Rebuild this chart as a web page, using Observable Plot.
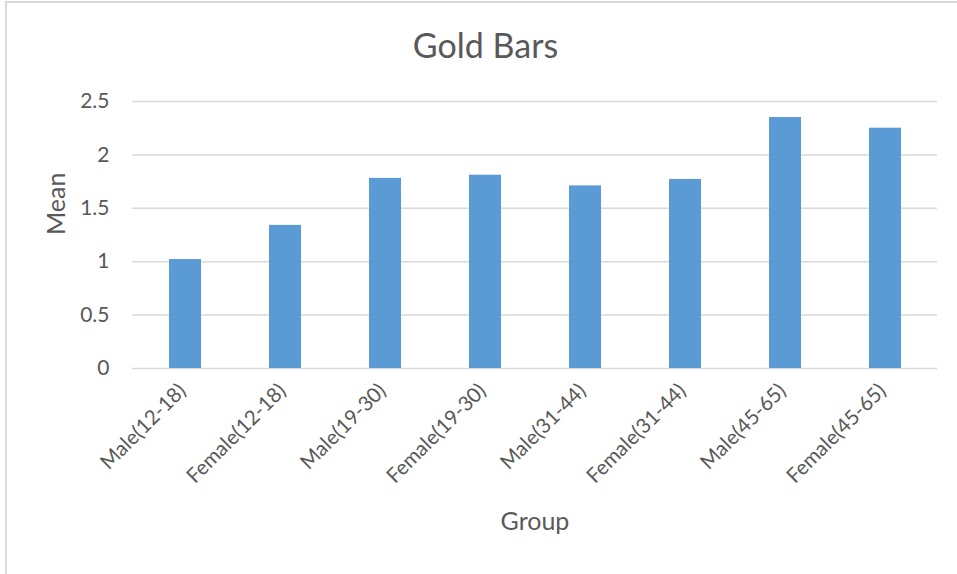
<!DOCTYPE html>
<html>
<head>
<meta charset="utf-8">
<script src="https://cdn.jsdelivr.net/npm/d3@7"></script>
<script src="https://cdn.jsdelivr.net/npm/@observablehq/plot@0.6"></script>
<style>
  html, body { margin: 0; padding: 0; background: #fff; }
  #wrap { position: relative; width: 957px; height: 574px; overflow: hidden; font-family: Lato, "Open Sans", sans-serif; color: #595959; }
  #frame { position: absolute; left: 5px; top: 1px; right: -4px; bottom: -4px; border-left: 2px solid #d9d9d9; border-top: 2px solid #d9d9d9; pointer-events: none; }
  #title { height: 70px; box-sizing: border-box; padding-top: 28px; padding-left: 14px; text-align: center; font-size: 34px; line-height: 34px; color: #595959; }
  svg { display: block; }
</style>
</head>
<body>
<div id="wrap">
  <div id="title">Gold Bars</div>
  <div id="chart"></div>
  <div id="frame"></div>
</div>
<script>
const groups = ["Male(12-18)", "Female(12-18)", "Male(19-30)", "Female(19-30)", "Male(31-44)", "Female(31-44)", "Male(45-65)", "Female(45-65)"];
const means = [1.02, 1.34, 1.78, 1.81, 1.71, 1.77, 2.35, 2.25];
const yTicks = [0, 0.5, 1, 1.5, 2, 2.5];
const yLabel = "Mean";
const xLabel = "Group";

const data = groups.map((g, i) => ({group: g, mean: means[i]}));
const textColor = "#595959";

const chart = Plot.plot({
  width: 957,
  height: 504,
  marginTop: 31,
  marginBottom: 206,
  marginLeft: 132,
  marginRight: 20,
  style: {fontFamily: "Lato, 'Open Sans', sans-serif", color: textColor, background: "transparent"},
  x: {domain: groups, paddingInner: 0.68, paddingOuter: 0.34},
  y: {domain: [0, 2.5], ticks: yTicks},
  marks: [
    Plot.gridY(yTicks, {stroke: "#d9d9d9", strokeOpacity: 1, strokeWidth: 1.5}),
    Plot.barY(data, {x: "group", y: "mean", fill: "#5b9bd5"}),
    Plot.axisY({ticks: yTicks, tickSize: 0, tickPadding: 23, fontSize: 21, fill: textColor, label: null, tickFormat: d => String(d)}),
    Plot.axisX({tickSize: 0, tickRotate: -45, tickPadding: 19, dx: -3, fontSize: 20.5, fill: textColor, label: null}),
    Plot.text([yLabel], {frameAnchor: "left", rotate: -90, dx: -76, fontSize: 25, fill: textColor, text: d => d}),
    Plot.text([xLabel], {frameAnchor: "bottom", dy: 161, fontSize: 25, fill: textColor, text: d => d})
  ]
});
document.getElementById("chart").appendChild(chart);
</script>
</body>
</html>
